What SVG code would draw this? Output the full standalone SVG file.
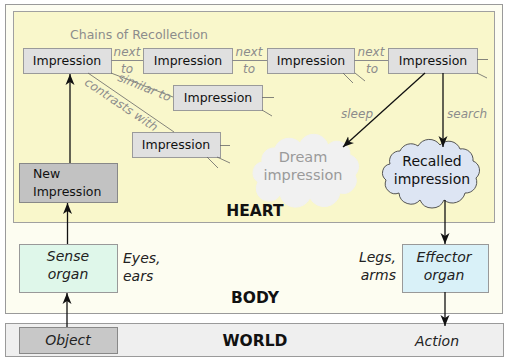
<svg xmlns="http://www.w3.org/2000/svg" width="510" height="361" viewBox="0 0 510 361">
<style>
text{font-family:"DejaVu Sans","Liberation Sans",sans-serif}
.imp rect{fill:#e0e0e0;stroke:#9a9a9a;stroke-width:1}
.imp text{font-size:12.5px;fill:#111;text-anchor:middle}
.lbl{font-size:12px;fill:#8c8c8c;font-style:italic}
.lk{stroke:#8a8a8a;stroke-width:1;fill:none}
.stub{stroke:#666;stroke-width:0.8;fill:none}
.arr{stroke:#111;stroke-width:1.3;fill:none;marker-end:url(#ah)}
.title{font-size:15.5px;font-weight:bold;fill:#111;text-anchor:middle}
.it{font-style:italic;font-size:14px;fill:#222}
</style>
<defs>
<marker id="ah" markerWidth="12" markerHeight="10" viewBox="-11 -5 12 10" refX="0" refY="0" orient="auto" markerUnits="userSpaceOnUse">
<path d="M0,0 L-11,-4.5 L-8,0 L-11,4.5 z" fill="#111"/>
</marker>
</defs>
<g id="body">
<rect x="5.5" y="4.5" width="497" height="309" fill="#fdfdf1" stroke="#9a9a9a"/>
<text x="255" y="303" class="title">BODY</text>
</g>
<g id="heart">
<rect x="13.5" y="11.5" width="481" height="211" fill="#f9f7cb" stroke="#a0a0a0"/>
<text x="255" y="216" class="title">HEART</text>
<text x="139" y="39" font-size="12.5" fill="#8c8c8c" text-anchor="middle">Chains of Recollection</text>
</g>
<g id="world">
<rect x="5.5" y="323.5" width="498" height="33" fill="#efefef" stroke="#9a9a9a"/>
<text x="255" y="346" class="title">WORLD</text>
</g>
<g id="object">
<rect x="19.5" y="327.5" width="98" height="26" fill="#c8c8c8" stroke="#888"/>
<text x="68" y="345" class="it" text-anchor="middle">Object</text>
</g>
<g id="action">
<text x="437" y="346" class="it" text-anchor="middle">Action</text>
</g>
<g id="sense">
<rect x="19.5" y="244.5" width="98" height="48" fill="#dff7ea" stroke="#999"/>
<text x="68" y="261" class="it" text-anchor="middle">Sense</text>
<text x="68" y="279" class="it" text-anchor="middle">organ</text>
<text x="123" y="263" class="it">Eyes,</text>
<text x="123" y="281" class="it">ears</text>
</g>
<g id="effector">
<rect x="402.5" y="244.5" width="86" height="48" fill="#d9f1f8" stroke="#999"/>
<text x="444" y="262" class="it" text-anchor="middle">Effector</text>
<text x="444" y="280" class="it" text-anchor="middle">organ</text>
<text x="396" y="262" class="it" text-anchor="end">Legs,</text>
<text x="396" y="280" class="it" text-anchor="end">arms</text>
</g>
<g id="newimp">
<rect x="19.5" y="163.5" width="98" height="39" fill="#c2c2c2" stroke="#888"/>
<text x="33" y="178" font-size="12.5" fill="#111">New</text>
<text x="33" y="196" font-size="12.5" fill="#111">Impression</text>
</g>
<g id="imp1" class="imp"><rect x="23.5" y="48.5" width="88" height="25"/><text x="67" y="65">Impression</text></g>
<g id="imp2" class="imp"><rect x="143.5" y="48.5" width="89" height="25"/><text x="188" y="65">Impression</text></g>
<g id="imp3" class="imp"><rect x="267.5" y="48.5" width="87" height="25"/><text x="311" y="65">Impression</text></g>
<g id="imp4" class="imp"><rect x="388.5" y="48.5" width="89" height="25"/><text x="433" y="65">Impression</text></g>
<g id="imp5" class="imp"><rect x="173.5" y="85.5" width="89" height="25"/><text x="218" y="102">Impression</text></g>
<g id="imp6" class="imp"><rect x="132.5" y="132.5" width="88" height="25"/><text x="176" y="149">Impression</text></g>
<g id="dream">
<path d="M262,162 A12,12 0 0 1 275,148 A15,15 0 0 1 300,143 A15,15 0 0 1 328,145 A13,13 0 0 1 350,155 A12,12 0 0 1 355,175 A13,13 0 0 1 340,193 A16,16 0 0 1 310,198 A16,16 0 0 1 280,195 A12,12 0 0 1 258,182 A11,11 0 0 1 262,162 Z" fill="#f1f1f1" stroke="#f1f1f1"/>
<text x="303" y="162" font-size="14.5" fill="#9a9a9a" text-anchor="middle">Dream</text>
<text x="303" y="180" font-size="14.5" fill="#9a9a9a" text-anchor="middle">impression</text>
</g>
<g id="recalled">
<path d="M390,164 A10,10 0 0 1 400,151 A12,12 0 0 1 418,146 A13,13 0 0 1 440,145 A12,12 0 0 1 460,149 A11,11 0 0 1 473,161 A10,10 0 0 1 476,178 A11,11 0 0 1 465,193 A13,13 0 0 1 444,200 A13,13 0 0 1 420,200 A12,12 0 0 1 399,193 A10,10 0 0 1 386,180 A9,9 0 0 1 390,164 Z" fill="#dde5f3" stroke="#444" stroke-width="0.9"/>
<text x="432" y="166" font-size="14" fill="#111" text-anchor="middle">Recalled</text>
<text x="432" y="184" font-size="14" fill="#111" text-anchor="middle">impression</text>
</g>
<g id="connectors">
<line class="lk" x1="111" y1="60.5" x2="143" y2="60.5"/>
<line class="lk" x1="232" y1="60.5" x2="267" y2="60.5"/>
<line class="lk" x1="354" y1="60.5" x2="388" y2="60.5"/>
<text class="lbl" x="127" y="56" text-anchor="middle">next</text>
<text class="lbl" x="127" y="73" text-anchor="middle">to</text>
<text class="lbl" x="249" y="56" text-anchor="middle">next</text>
<text class="lbl" x="249" y="73" text-anchor="middle">to</text>
<text class="lbl" x="371" y="56" text-anchor="middle">next</text>
<text class="lbl" x="372" y="73" text-anchor="middle">to</text>
<line class="stub" x1="111" y1="73" x2="173" y2="97"/>
<line class="stub" x1="88" y1="73" x2="174" y2="132"/>
<text class="lbl" x="0" y="0" text-anchor="middle" transform="translate(143,91) rotate(22)">similar to</text>
<text class="lbl" x="0" y="0" text-anchor="middle" transform="translate(119,108) rotate(34)">contrasts with</text>
<line class="stub" x1="262" y1="97.5" x2="274" y2="97.5"/>
<line class="stub" x1="262" y1="110" x2="272" y2="116"/>
<line class="stub" x1="220" y1="145.5" x2="230" y2="145.5"/>
<line class="stub" x1="217" y1="157" x2="230" y2="163"/>
<line class="stub" x1="207" y1="157" x2="218" y2="168"/>
<line class="stub" x1="343" y1="73" x2="353" y2="83"/>
<line class="stub" x1="355" y1="73" x2="365" y2="81"/>
<line class="stub" x1="477" y1="59.5" x2="488" y2="59.5"/>
<line class="stub" x1="477" y1="73" x2="487" y2="78"/>
<line class="arr" x1="425" y1="73" x2="343" y2="147"/>
<line class="arr" x1="443" y1="73" x2="443" y2="147"/>
<text class="lbl" x="373" y="118" text-anchor="end">sleep</text>
<text class="lbl" x="447" y="118">search</text>
<line class="arr" x1="445" y1="200" x2="445" y2="244"/>
<line class="arr" x1="445" y1="292" x2="445" y2="326"/>
<line class="arr" x1="67" y1="327" x2="67" y2="293"/>
<line class="arr" x1="67.5" y1="244" x2="67.5" y2="203"/>
<line class="arr" x1="70" y1="163" x2="70" y2="74"/>
</g>
</svg>
